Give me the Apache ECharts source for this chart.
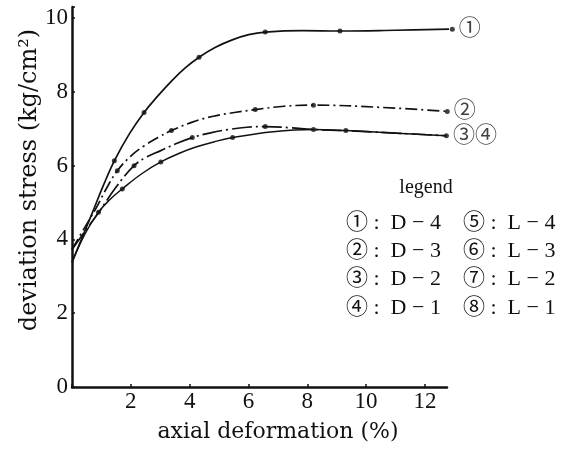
<!DOCTYPE html>
<html><head><meta charset="utf-8">
<script src="https://cdn.jsdelivr.net/npm/echarts@6/dist/echarts.min.js"></script>
<style>html,body{margin:0;padding:0;background:#fff}#c{width:562px;height:460px}</style>
</head><body><div id="c"></div>
<script>
const xTicks = [0, 2, 4, 6, 8, 10, 12];
const yTicks = [0, 2, 4, 6, 8, 10];
// curve shapes
const d4Line = [[0, 3.38], [0.35, 4.06], [0.7, 4.74], [1.07, 5.47], [1.44, 6.13], [1.95, 6.86], [2.45, 7.44], [2.92, 7.89], [3.39, 8.3], [3.85, 8.65], [4.32, 8.94], [4.88, 9.21], [5.45, 9.41], [6.01, 9.55], [6.57, 9.62], [7.84, 9.66], [9.11, 9.65], [11, 9.67], [12.93, 9.7]];
const d3Line = [[0, 3.73], [0.4, 4.28], [0.8, 4.82], [1.17, 5.38], [1.54, 5.86], [2.0, 6.26], [2.46, 6.54], [2.92, 6.76], [3.38, 6.95], [4.09, 7.18], [4.8, 7.34], [5.52, 7.44], [6.23, 7.52], [7.22, 7.61], [8.21, 7.64], [10.49, 7.58], [12.76, 7.47]];
const d2Line = [[0, 3.73], [0.45, 4.23], [0.9, 4.72], [1.5, 5.42], [2.11, 6.0], [2.55, 6.24], [3.0, 6.4], [3.55, 6.6], [4.09, 6.76], [4.71, 6.89], [5.33, 6.98], [5.95, 7.04], [6.57, 7.06], [7.39, 7.03], [8.21, 6.98], [8.76, 6.965], [9.31, 6.95], [11.02, 6.88], [12.73, 6.81]];
const d1Line = [[0, 3.38], [0.45, 4.16], [0.9, 4.74], [1.3, 5.09], [1.71, 5.37], [2.37, 5.78], [3.02, 6.1], [3.63, 6.33], [4.24, 6.51], [4.85, 6.65], [5.46, 6.76], [6.84, 6.92], [8.21, 6.98], [8.76, 6.965], [9.31, 6.95], [11.02, 6.88], [12.73, 6.81]];
// measured (dotted) points
const d4Dots = [[1.44, 6.13], [2.45, 7.44], [4.32, 8.94], [6.57, 9.62], [9.11, 9.65], [12.93, 9.7]];
const d3Dots = [[1.54, 5.86], [3.38, 6.95], [6.23, 7.52], [8.21, 7.64], [12.76, 7.47]];
const d2Dots = [[2.11, 6.0], [4.09, 6.76], [6.57, 7.06], [9.31, 6.95], [12.73, 6.81]];
const d1Dots = [[0.9, 4.74], [1.71, 5.37], [3.02, 6.1], [5.46, 6.76], [8.21, 6.98]];
const endLabels = ['①', '②', '③④', ''];
const legendTitle = 'legend';
const legendLeft = ['① :  D − 4', '② :  D − 3', '③ :  D − 2', '④ :  D − 1'];
const legendRight = ['⑤ :  L − 4', '⑥ :  L − 3', '⑦ :  L − 2', '⑧ :  L − 1'];
const xName = 'axial deformation (%)';
const yName = 'deviation stress (kg/cm²)';

const FONT = '"Liberation Serif", "DejaVu Serif", "Noto Sans CJK SC", serif';
const FONT2 = '"DejaVu Serif", "Liberation Serif", serif';
const chart = echarts.init(document.getElementById('c'), null, {renderer: 'canvas'});

function line(data, type, width) {
  return {
    type: 'line', data: data, smooth: 0.4, clip: false,
    symbol: 'none', silent: true,
    lineStyle: {color: '#111', width: width, type: type}, z: 3
  };
}
function dots(data, label) {
  return {
    type: 'scatter', symbol: 'circle', symbolSize: 5, clip: false,
    itemStyle: {color: '#111'}, z: 4,
    data: data.map((p, i) => (i === data.length - 1 && label) ?
      {value: p, label: {show: true, formatter: label, position: 'right', distance: 4, fontFamily: FONT, fontSize: 22, color: '#111'}} :
      {value: p})
  };
}

const g = [{type: 'text', x: 426, y: 188, style: {text: legendTitle, font: '20px ' + FONT, fill: '#111', align: 'center', verticalAlign: 'middle'}}];
legendLeft.forEach((t, i) => g.push({type: 'text', x: 346, y: 223 + i * 28.3, style: {text: t, font: '22px ' + FONT, fill: '#111', verticalAlign: 'middle'}}));
legendRight.forEach((t, i) => g.push({type: 'text', x: 463, y: 223 + i * 28.3, style: {text: t, font: '22px ' + FONT, fill: '#111', verticalAlign: 'middle'}}));
g.push({type: 'text', x: 278, y: 432, style: {text: xName, font: '22px ' + FONT2, fill: '#111', align: 'center', verticalAlign: 'middle'}});
g.push({type: 'text', x: 30, y: 180, rotation: Math.PI / 2, style: {text: yName, font: '24px ' + FONT2, fill: '#111', align: 'center', verticalAlign: 'middle'}});

chart.setOption({
  animation: false,
  backgroundColor: '#fff',
  grid: {left: 72, right: 115, top: 7, bottom: 73, containLabel: false},
  xAxis: {
    type: 'value', min: 0, max: 12.75, interval: 2,
    axisLine: {lineStyle: {color: '#111', width: 2.5}},
    axisTick: {inside: true, length: 3, lineStyle: {color: '#111', width: 1.5}},
    axisLabel: {fontFamily: FONT, fontSize: 23, color: '#111', margin: 3, showMaxLabel: false,
      formatter: v => (v === 0 || xTicks.indexOf(v) < 0) ? '' : String(v)},
    splitLine: {show: false}
  },
  yAxis: {
    type: 'value', min: 0, max: 10.3, interval: 2,
    axisLine: {show: true, lineStyle: {color: '#111', width: 2.5}},
    axisTick: {inside: true, length: 3, lineStyle: {color: '#111', width: 1.5}},
    axisLabel: {fontFamily: FONT, fontSize: 23, color: '#111', margin: 4,
      formatter: v => yTicks.indexOf(v) < 0 ? '' : String(v)},
    splitLine: {show: false}
  },
  series: [
    line(d4Line, 'solid', 1.7),
    line(d3Line, [12, 4, 2, 4], 1.7),
    line(d2Line, [20, 4, 2, 4], 1.7),
    line(d1Line, 'solid', 1.5),
    dots(d4Dots, endLabels[0]),
    dots(d3Dots, endLabels[1]),
    dots(d2Dots, endLabels[2]),
    dots(d1Dots, endLabels[3])
  ],
  graphic: g
});
</script>
</body></html>
